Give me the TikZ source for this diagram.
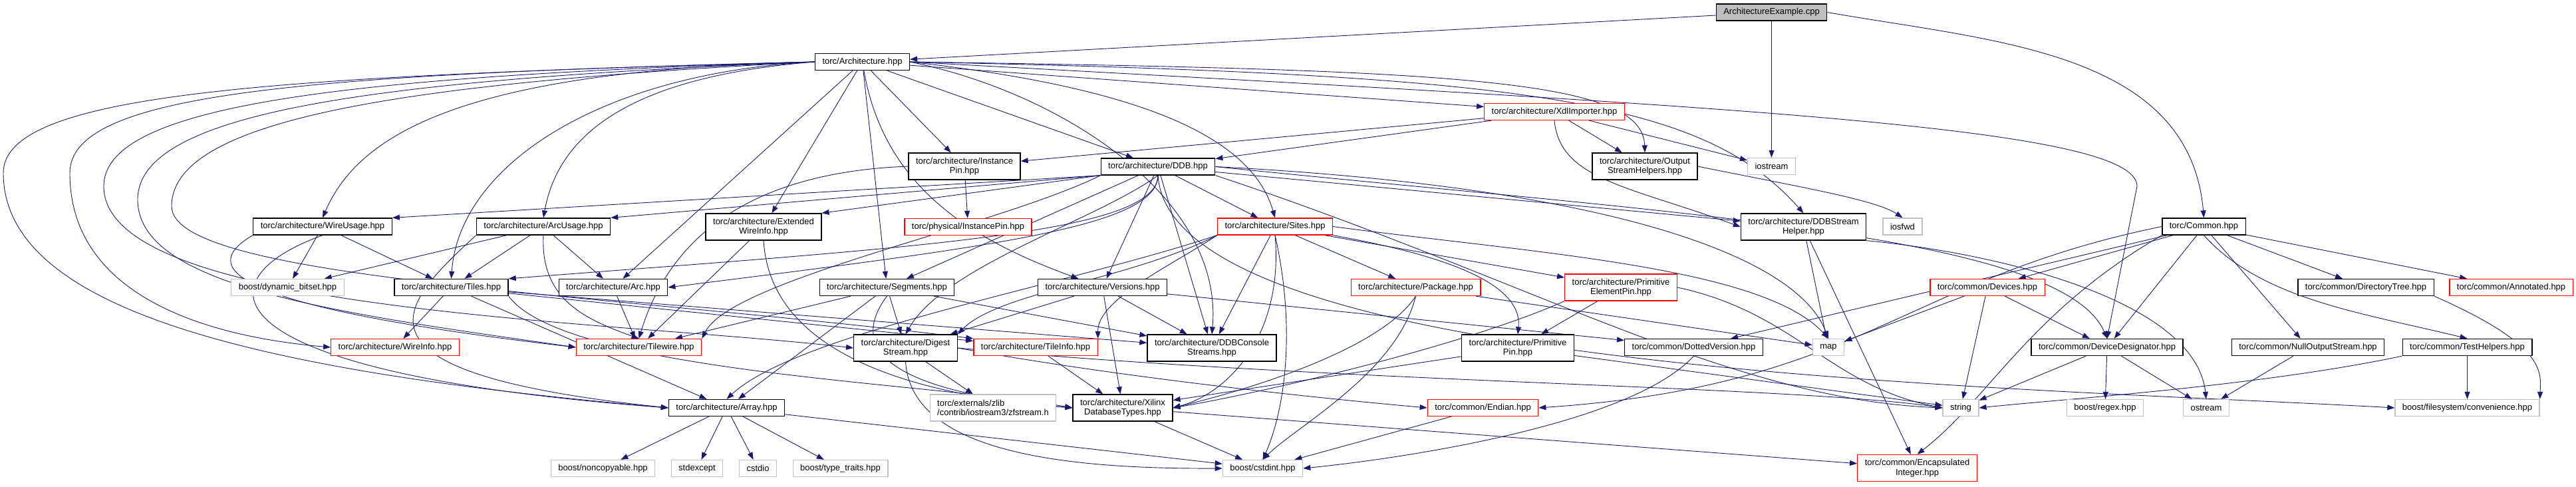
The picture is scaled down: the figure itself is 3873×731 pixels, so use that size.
\documentclass[tikz,border=0pt]{standalone}
\usepackage{fontspec}
\setmainfont{Liberation Sans}
\usetikzlibrary{arrows.meta, positioning, backgrounds}
\definecolor{edgeBlue}{HTML}{191970}
\definecolor{lineGray}{HTML}{BFBFBF}
\tikzset{
  every node/.style={font=\fontsize{13}{14.5}\selectfont},
  arr/.style={-{Triangle[length=11pt,width=8pt]}, edgeBlue, line width=0.9pt},
  file/.style={draw, line width=1.3pt, minimum height=25pt, inner xsep=11pt, inner ysep=2pt,
               align=center, fill=white},
  fileRed/.style={file, draw=red},
  fileGray/.style={file, draw=lineGray},
  fileRoot/.style={file, fill=lineGray},
  fileTwo/.style={minimum height=40pt},
}

\begin{document}
\begin{tikzpicture}[x=1pt, y=-1pt]
  \useasboundingbox (0,0) rectangle (3873,731);
  % rank 0 to 3
  \node[fileRoot] (ex) at (2663.5,18.5) {ArchitectureExample.cpp};
  \node[file] (arch) at (1296.5,93) {torc/Architecture.hpp};
  \node[fileRed] (xdl) at (2337,168) {torc/architecture/XdlImporter.hpp};
  \node[file, fileTwo] (ipin) at (1450,250) {torc/architecture/Instance\\Pin.hpp};
  \node[file] (ddb) at (1741,250.5) {torc/architecture/DDB.hpp};
  \node[file, fileTwo] (osh) at (2473,250) {torc/architecture/Output\\StreamHelpers.hpp};
  \node[fileGray] (iostream) at (2663.5,250) {iostream};
  % rank 4
  \node[file] (wusage) at (485,340.5) {torc/architecture/WireUsage.hpp};
  \node[file] (ausage) at (817,340.5) {torc/architecture/ArcUsage.hpp};
  \node[file, fileTwo] (ewi) at (1148,341) {torc/architecture/Extended\\WireInfo.hpp};
  \node[fileRed] (pipin) at (1455.5,341) {torc/physical/InstancePin.hpp};
  \node[fileRed] (sites) at (1917,340.5) {torc/architecture/Sites.hpp};
  \node[file, fileTwo] (dsh) at (2711.5,341) {torc/architecture/DDBStream\\Helper.hpp};
  \node[fileGray] (iosfwd) at (2860.5,340.5) {iosfwd};
  \node[file] (common) at (3313.5,340.5) {torc/Common.hpp};
  % rank 5
  \node[fileGray] (bitset) at (432.5,432) {boost/dynamic\_bitset.hpp};
  \node[file] (tiles) at (678.5,432) {torc/architecture/Tiles.hpp};
  \node[file] (arc) at (922,432) {torc/architecture/Arc.hpp};
  \node[file] (segs) at (1333.5,432) {torc/architecture/Segments.hpp};
  \node[file] (vers) at (1657.5,432) {torc/architecture/Versions.hpp};
  \node[fileRed] (pkg) at (2128.5,432) {torc/architecture/Package.hpp};
  \node[fileRed, fileTwo] (pepin) at (2437,432) {torc/architecture/Primitive\\ElementPin.hpp};
  \node[fileRed] (devices) at (2988,432) {torc/common/Devices.hpp};
  \node[file] (dtree) at (3557,432) {torc/common/DirectoryTree.hpp};
  \node[fileRed] (annot) at (3775.5,432) {torc/common/Annotated.hpp};
  % rank 6
  \node[fileRed] (winfo) at (594,522) {torc/architecture/WireInfo.hpp};
  \node[fileRed] (twire) at (960.5,522) {torc/architecture/Tilewire.hpp};
  \node[file, fileTwo] (dstream) at (1361.5,523) {torc/architecture/Digest\\Stream.hpp};
  \node[fileRed] (tinfo) at (1557,522) {torc/architecture/TileInfo.hpp};
  \node[file, fileTwo] (dcs) at (1822,523) {torc/architecture/DDBConsole\\Streams.hpp};
  \node[file, fileTwo] (ppin) at (2282,523) {torc/architecture/Primitive\\Pin.hpp};
  \node[file] (dver) at (2546.5,522) {torc/common/DottedVersion.hpp};
  \node[fileGray] (map) at (2749,522) {map};
  \node[file] (ddes) at (3168,522) {torc/common/DeviceDesignator.hpp};
  \node[file] (nos) at (3470,522) {torc/common/NullOutputStream.hpp};
  \node[file] (thelp) at (3709.5,522) {torc/common/TestHelpers.hpp};
  % rank 7
  \node[file] (array) at (1092.5,613) {torc/architecture/Array.hpp};
  \node[fileGray, fileTwo, align=left] (zfs) at (1493,613) {torc/externals/zlib\\/contrib/iostream3/zfstream.h};
  \node[file, fileTwo] (xdt) at (1688,613) {torc/architecture/Xilinx\\DatabaseTypes.hpp};
  \node[fileRed] (endian) at (2229.5,613) {torc/common/Endian.hpp};
  \node[fileGray] (string) at (2948,613) {string};
  \node[fileGray] (regex) at (3165,613) {boost/regex.hpp};
  \node[fileGray] (ostream) at (3317,613) {ostream};
  \node[fileGray] (fsconv) at (3709.5,613) {boost/filesystem/convenience.hpp};
  % rank 8
  \node[fileGray] (noncopy) at (906.5,704) {boost/noncopyable.hpp};
  \node[fileGray] (stdexcept) at (1048,704) {stdexcept};
  \node[fileGray] (cstdio) at (1139.5,704) {cstdio};
  \node[fileGray] (typetr) at (1263.5,704) {boost/type\_traits.hpp};
  \node[fileGray] (cstdint) at (1898.5,704) {boost/cstdint.hpp};
  \node[fileRed, fileTwo] (encint) at (2882.5,703.5) {torc/common/Encapsulated\\Integer.hpp};

  \begin{scope}[on background layer]
  % plain include edges
  \foreach \a/\b in {ex/arch, ex/iostream, arch/xdl, arch/ddb, arch/ipin, arch/ewi, arch/segs,
      arch/arc, xdl/ddb, xdl/ipin, xdl/osh, xdl/iostream, ddb/segs, ddb/vers, ddb/dcs, ddb/sites,
      ddb/dsh, ipin/pipin, ewi/twire, wusage/bitset, wusage/tiles, ausage/bitset, ausage/tiles,
      ausage/arc, tiles/winfo, tiles/array, tiles/tinfo, tiles/dcs, arc/twire, segs/twire,
      segs/array, segs/dstream, segs/dcs, vers/dstream, vers/xdt, vers/dcs, vers/dver,
      sites/pkg, sites/pepin, sites/dcs, pkg/map, pepin/ppin, ppin/xdt, ppin/string,
      dstream/zfs, tinfo/xdt, array/noncopy, array/stdexcept, array/cstdio, array/typetr,
      array/cstdint, xdt/cstdint, xdt/encint, endian/cstdint, dsh/map, dsh/encint,
      common/devices, common/ddes, common/dtree, common/annot, common/nos, common/dver,
      devices/string, devices/ddes, devices/map, ddes/string, ddes/regex, ddes/ostream,
      nos/ostream, thelp/fsconv}
    \draw[arr] (\a) -- (\b);
  % edges leaving a corner
  \draw[arr] (ddb.south west) -- (wusage.north east);
  \draw[arr] (ddb.south west) -- (ausage.north east);
  \draw[arr] (ddb.south west) -- (ewi.north east);
  % bent edges
  \draw[arr] (ex.east) to[out=-10, in=95] (common.north);
  \draw[arr] (arch.east) .. controls (2200,105) and (2470,120) .. (osh.north);
  \draw[arr] (arch.east) .. controls (2300,112) and (2560,150) .. (dsh.north);
  \draw[arr] (arch.east) .. controls (2600,160) and (3213,190) .. (3213,280) -- (ddes.north);
  \draw[arr] (arch.east) .. controls (1700,130) and (1880,200) .. (sites.north);
  \draw[arr] (arch.east) .. controls (1600,140) and (1840,300) .. (dcs.north);
  \draw[arr] (arch) to[out=-80, in=160] (vers);
  \draw[arr] (arch.west) .. controls (900,110) and (690,250) .. (tiles.north);
  \draw[arr] (arch.west) .. controls (700,105) and (540,200) .. (wusage.north);
  \draw[arr] (arch.west) .. controls (950,115) and (840,200) .. (ausage.north);
  % long curves round the left margin
  \draw[arr] (arch.west) .. controls (400,115) and (5,140) .. (5,260)
    .. controls (5,470) and (400,560) .. (array.west);
  \draw[arr] (arch.west) .. controls (450,112) and (105,140) .. (105,260)
    .. controls (105,440) and (300,505) .. (winfo.west);
  \draw[arr] (arch.west) .. controls (500,115) and (156,160) .. (156,280)
    .. controls (156,470) and (900,480) .. (dstream.west);
  \draw[arr] (arch.west) .. controls (550,120) and (207,170) .. (207,300)
    .. controls (207,430) and (500,470) .. (twire.west);
  \draw[arr] (arch.west) .. controls (600,125) and (258,180) .. (258,310)
    .. controls (258,420) and (900,440) .. (tinfo.north west);
  \draw[arr] (xdl.south) .. controls (2345,270) and (2450,280) .. (dsh.west);
  \draw[arr] (ddb.south) .. controls (1740,350) and (1400,370) .. (tiles.north east);
  \draw[arr] (ddb.south) .. controls (1740,340) and (1500,370) .. (arc.east);
  \draw[arr] (ddb.south) .. controls (1650,330) and (1420,400) .. (dstream.north);
  \draw[arr] (ddb.south west) .. controls (1500,340) and (1100,420) .. (twire.north east);
  \draw[arr] (ddb.east) .. controls (2500,320) and (3100,350) .. (ddes.north);
  \draw[arr] (ddb.east) .. controls (2400,280) and (2700,380) .. (map.north);
  \draw[arr] (ddb.south east) .. controls (2300,420) and (2600,600) .. (string.west);
  \draw[arr] (ddb.south) .. controls (1760,560) and (3000,580) .. (fsconv.west);
  \draw[arr] (ipin.west) .. controls (1100,260) and (1000,380) .. (twire.north);
  \draw[arr] (ewi.south) .. controls (1160,560) and (1450,600) .. (xdt.west);
  \draw[arr] (wusage.south west) .. controls (300,400) and (330,460) .. (twire.west);
  \draw[arr] (wusage.south) .. controls (300,420) and (300,560) .. (array.west);
  \draw[arr] (ausage.south) .. controls (812,450) and (880,480) .. (twire.north);
  \draw[arr] (ausage.south west) .. controls (600,460) and (500,560) .. (array.west);
  \draw[arr] (tiles.south east) .. controls (850,560) and (1400,575) .. (xdt.west);
  \draw[arr] (segs.south) .. controls (1270,530) and (1350,590) .. (xdt.west);
  \draw[arr] (sites.south east) .. controls (2150,380) and (2290,420) .. (ppin.north);
  \draw[arr] (sites.south west) .. controls (1600,430) and (1200,500) .. (array.north);
  \draw[arr] (sites.south west) .. controls (1760,400) and (1650,450) .. (tinfo.north east);
  \draw[arr] (sites.south) .. controls (1930,500) and (1850,590) .. (xdt.east);
  \draw[arr] (sites.south west) .. controls (1700,420) and (1500,440) .. (dstream.north east);
  \draw[arr] (sites.south) .. controls (1950,500) and (1930,620) .. (cstdint.north);
  \draw[arr] (sites.east) .. controls (2300,380) and (2650,400) .. (map.north);
  \draw[arr] (pkg.south) .. controls (2080,520) and (1900,580) .. (xdt.east);
  \draw[arr] (pkg.south) .. controls (2100,560) and (1950,640) .. (cstdint.north);
  \draw[arr] (pepin.south west) .. controls (2200,520) and (1900,590) .. (xdt.east);
  \draw[arr] (pepin.east) .. controls (2700,470) and (2750,580) .. (string.west);
  \draw[arr] (dstream.south) .. controls (1370,680) and (1600,705) .. (cstdint.west);
  \draw[arr] (dstream.east) .. controls (1700,570) and (2000,600) .. (endian.west);
  \draw[arr] (dstream.east) .. controls (2000,575) and (2700,580) .. (string.west);
  \draw[arr] (dver.south) .. controls (2450,640) and (2100,690) .. (cstdint.east);
  \draw[arr] (dsh.south east) .. controls (3000,380) and (3300,450) .. (ostream.north);
  \draw[arr] (osh.east) .. controls (2700,280) and (2820,300) .. (iosfwd.north);
  \draw[arr] (common.south) .. controls (3400,450) and (3550,470) .. (thelp.north);
  \draw[arr] (common.south west) .. controls (3050,470) and (2990,600) .. (encint.north);
  \draw[arr] (common.west) .. controls (2860,420) and (2800,580) .. (endian.east);
  \draw[arr] (thelp.south west) .. controls (3400,580) and (3100,600) .. (string.east);
  \draw[arr] (dtree.south east) .. controls (3830,520) and (3820,560) .. (fsconv.north east);
  \end{scope}
\end{tikzpicture}
\end{document}
